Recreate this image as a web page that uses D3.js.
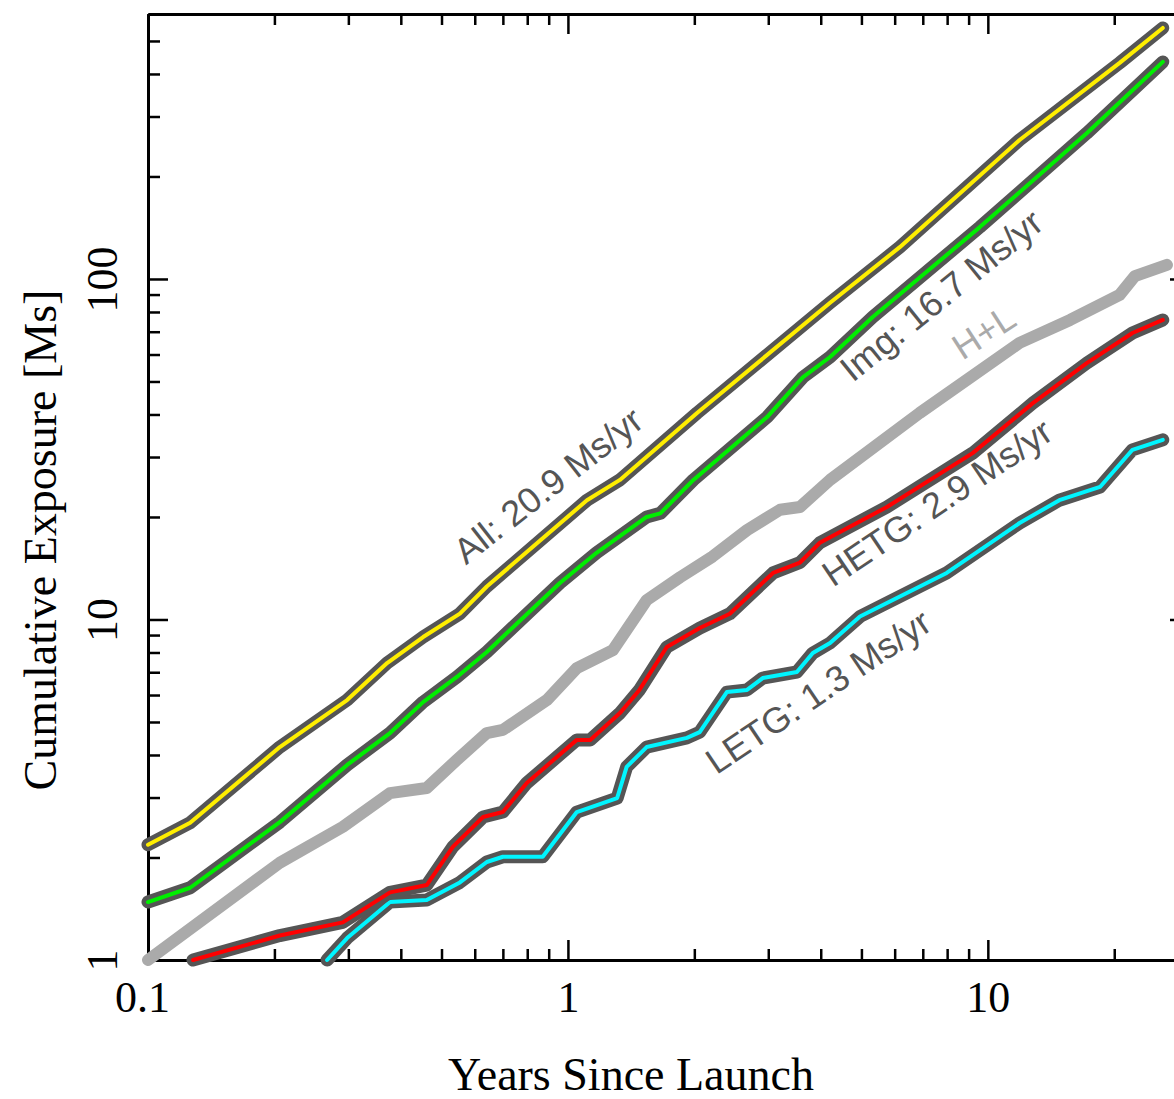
<!DOCTYPE html>
<html>
<head>
<meta charset="utf-8">
<script src="https://cdn.jsdelivr.net/npm/d3@7"></script>
<style>
  body { margin: 0; background: #fff; }
  svg { display: block; }
</style>
</head>
<body>
<svg width="1174" height="1099"></svg>
<script>
// cumulative exposure (Ms) vs years since launch
var allYears = [0.1, 0.126, 0.206, 0.298, 0.371, 0.452, 0.553, 0.641, 1.11, 1.33, 2.03, 4.21, 6.17, 11.9, 20.6, 26.1];
var allExp   = [2.18, 2.53, 4.22, 5.80, 7.45, 8.88, 10.4, 12.5, 22.4, 25.7, 40.4, 85.1, 124, 256, 431, 546];

var imgYears = [0.1, 0.126, 0.206, 0.298, 0.377, 0.452, 0.544, 0.641, 0.957, 1.17, 1.54, 1.66, 1.99, 2.98, 3.63, 4.21, 5.32, 9.57, 17.2, 26.1];
var imgExp   = [1.48, 1.63, 2.54, 3.74, 4.64, 5.72, 6.78, 8.03, 12.8, 15.7, 20.0, 20.5, 25.7, 39.3, 51.5, 59.0, 77.3, 142, 268, 434];

var hlYears = [0.1, 0.206, 0.291, 0.377, 0.461, 0.544, 0.641, 0.700, 0.891, 1.05, 1.28, 1.54, 1.85, 2.21, 2.67, 3.20, 3.57, 4.21, 6.88, 11.9, 15.7, 20.6, 22.4, 26.7];
var hlExp   = [1.0, 1.93, 2.46, 3.09, 3.20, 3.87, 4.64, 4.74, 5.80, 7.20, 8.13, 11.4, 13.3, 15.3, 18.3, 21.0, 21.4, 25.7, 40.4, 64.9, 75.8, 89.8, 102, 110];

var hetgYears = [0.128, 0.206, 0.291, 0.377, 0.461, 0.532, 0.628, 0.700, 0.798, 1.05, 1.13, 1.33, 1.48, 1.72, 2.06, 2.43, 3.08, 3.57, 3.98, 5.75, 9.20, 12.8, 17.2, 22.1, 26.1];
var hetgExp   = [1.0, 1.18, 1.29, 1.58, 1.66, 2.15, 2.63, 2.72, 3.31, 4.43, 4.43, 5.31, 6.21, 8.30, 9.44, 10.4, 13.7, 14.7, 16.8, 21.4, 30.8, 43.2, 56.6, 69.4, 75.8];

var letgYears = [0.267, 0.298, 0.377, 0.461, 0.553, 0.641, 0.700, 0.871, 1.05, 1.31, 1.38, 1.54, 1.92, 2.06, 2.39, 2.67, 2.91, 3.51, 3.83, 4.21, 4.96, 7.98, 11.9, 14.8, 18.5, 22.1, 26.1];
var letgExp   = [1.0, 1.16, 1.48, 1.50, 1.69, 1.94, 2.01, 2.01, 2.72, 2.99, 3.69, 4.22, 4.49, 4.67, 6.12, 6.21, 6.73, 7.01, 7.97, 8.53, 10.2, 13.7, 19.2, 22.4, 24.5, 31.5, 33.7];

var xMajor = [0.1, 1, 10];
var yMajor = [1, 10, 100];
var xLabels = ["0.1", "1", "10"];
var yLabels = ["1", "10", "100"];

// series labels: text, start of baseline in data units, slant
var labelText  = ["All: 20.9 Ms/yr", "Img: 16.7 Ms/yr", "H+L", "HETG: 2.9 Ms/yr", "LETG: 1.3 Ms/yr"];
var labelYears = [0.572, 4.77, 8.7, 4.28, 2.26];
var labelExp   = [14.4, 49.5, 57.5, 12.4, 3.49];
var labelAngle = [38, 39, 33, 34, 34];

var svg = d3.select("svg"),
    margin = {top: 14, left: 148},
    width = 1042,
    height = 946;

var x = d3.scaleLog().domain([0.1, 30.3]).range([0, width]);
var y = d3.scaleLog().domain([1, 600]).range([height, 0]);

var g = svg.append("g").attr("transform", "translate(" + margin.left + "," + margin.top + ")");

function minors(lo, hi) {
  var out = [];
  for (var d = lo; d < hi; d *= 10)
    for (var k = 2; k <= 9; k++) out.push(d * k);
  return out;
}
var xMinor = minors(0.1, 100).filter(function(v){ return v < 30.3; });
var yMinor = minors(1, 1000).filter(function(v){ return v < 600; });

function styleAxis(sel) {
  sel.select(".domain").attr("stroke", "#000").attr("stroke-width", 3);
  sel.selectAll(".tick line").attr("stroke", "#000").attr("stroke-width", 2.5);
}

// bottom
g.append("g").attr("transform", "translate(0," + height + ")")
  .call(d3.axisBottom(x).tickValues(xMinor).tickSizeInner(-11).tickSizeOuter(0).tickFormat(""))
  .call(styleAxis);
var bx = g.append("g").attr("transform", "translate(0," + height + ")")
  .call(d3.axisBottom(x).tickValues(xMajor).tickSizeInner(-20).tickSizeOuter(0)
    .tickPadding(21).tickFormat(function(d, i){ return xLabels[i]; }))
  .call(styleAxis);
bx.selectAll("text").attr("font-family", "'Liberation Serif', 'Times New Roman', serif")
  .attr("font-size", 44).attr("fill", "#000");
bx.selectAll(".tick text").filter(function(d){ return d === 0.1; }).attr("dx", -6);

// top
g.append("g")
  .call(d3.axisTop(x).tickValues(xMinor).tickSizeInner(-11).tickSizeOuter(0).tickFormat(""))
  .call(styleAxis);
g.append("g")
  .call(d3.axisTop(x).tickValues(xMajor).tickSizeInner(-20).tickSizeOuter(0).tickFormat(""))
  .call(styleAxis);

// left
g.append("g")
  .call(d3.axisLeft(y).tickValues(yMinor).tickSizeInner(-12).tickSizeOuter(0).tickFormat(""))
  .call(styleAxis);
var ly = g.append("g")
  .call(d3.axisLeft(y).tickValues(yMajor).tickSizeInner(-20).tickSizeOuter(0)
    .tickFormat(function(d, i){ return yLabels[i]; }))
  .call(styleAxis);
ly.selectAll(".tick text")
  .attr("font-family", "'Liberation Serif', 'Times New Roman', serif")
  .attr("font-size", 44).attr("fill", "#000")
  .attr("text-anchor", "middle")
  .attr("x", 0).attr("y", -31).attr("dy", null)
  .attr("transform", "rotate(-90)");

// right
g.append("g").attr("transform", "translate(" + width + ",0)")
  .call(d3.axisRight(y).tickValues(yMinor).tickSizeInner(-12).tickSizeOuter(0).tickFormat(""))
  .call(styleAxis);
g.append("g").attr("transform", "translate(" + width + ",0)")
  .call(d3.axisRight(y).tickValues(yMajor).tickSizeInner(-20).tickSizeOuter(0).tickFormat(""))
  .call(styleAxis);

// axis titles
svg.append("text")
  .attr("x", 631).attr("y", 1090)
  .attr("text-anchor", "middle")
  .attr("font-family", "'Liberation Serif', 'Times New Roman', serif")
  .attr("font-size", 46)
  .text("Years Since Launch");

svg.append("text")
  .attr("transform", "translate(56,540) rotate(-90)")
  .attr("text-anchor", "middle")
  .attr("font-family", "'Liberation Serif', 'Times New Roman', serif")
  .attr("font-size", 46)
  .text("Cumulative Exposure [Ms]");

// lines
var line = d3.line()
  .x(function(d){ return x(d[0]); })
  .y(function(d){ return y(d[1]); });

function pairs(xs, ys) { return xs.map(function(v, i){ return [v, ys[i]]; }); }

var series = [
  {data: pairs(letgYears, letgExp), color: "#00f5ff", outline: true},
  {data: pairs(hetgYears, hetgExp), color: "#ff0000", outline: true},
  {data: pairs(hlYears, hlExp), color: "#aaaaaa", outline: false},
  {data: pairs(imgYears, imgExp), color: "#00ee00", outline: true},
  {data: pairs(allYears, allExp), color: "#ffee00", outline: true}
];

series.forEach(function(s) {
  if (s.outline) {
    g.append("path").datum(s.data)
      .attr("d", line)
      .attr("fill", "none")
      .attr("stroke", "#555")
      .attr("stroke-width", 13)
      .attr("stroke-linecap", "round")
      .attr("stroke-linejoin", "round");
    g.append("path").datum(s.data)
      .attr("d", line)
      .attr("fill", "none")
      .attr("stroke", s.color)
      .attr("stroke-width", 4)
      .attr("stroke-linecap", "round")
      .attr("stroke-linejoin", "round");
  } else {
    g.append("path").datum(s.data)
      .attr("d", line)
      .attr("fill", "none")
      .attr("stroke", s.color)
      .attr("stroke-width", 12)
      .attr("stroke-linecap", "round")
      .attr("stroke-linejoin", "round");
  }
});

// slanted labels
labelText.forEach(function(t, i) {
  g.append("text")
    .attr("transform", "translate(" + x(labelYears[i]) + "," + y(labelExp[i]) + ") rotate(" + (-labelAngle[i]) + ")")
    .attr("font-family", "'Liberation Sans', Arial, Helvetica, sans-serif")
    .attr("font-size", 36)
    .attr("fill", t === "H+L" ? "#aaaaaa" : "#555555")
    .text(t);
});
</script>
</body>
</html>
